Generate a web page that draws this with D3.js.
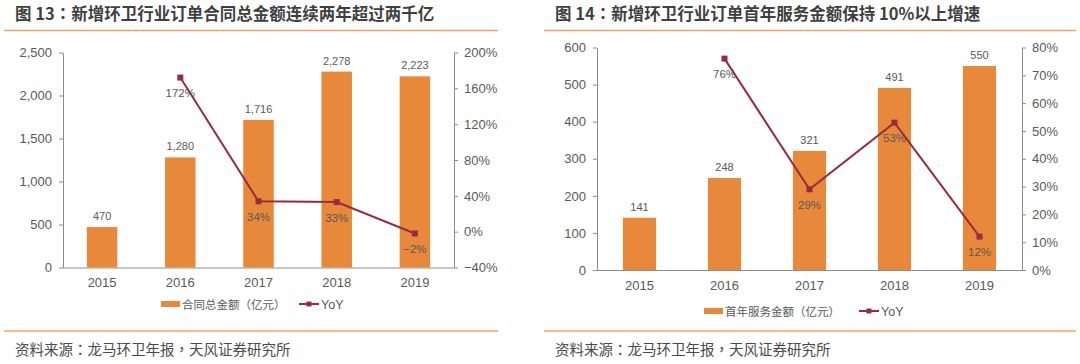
<!doctype html>
<html>
	<head>
		<meta charset="utf-8">
		<title>环卫订单</title>
		<style>
			body{
				margin: 0;
				background: #fff;
			}
			svg text{
				font-family: "Liberation Sans", Arial, "Noto Sans CJK SC", sans-serif;
			}
			.cjk{
				font-family: "Noto Sans CJK SC", sans-serif !important;
			}
			.punct{
				font-family: "Noto Sans CJK TC", sans-serif !important;
			}
		</style>
	</head>
	<body>
		<svg id="chart" width="1080" height="364"></svg>
		<script src="https://d3js.org/d3.v7.min.js"></script>
		<script>
			var years = ["2015", "2016", "2017", "2018", "2019"];
			// 合同总金额（亿元）
			var contractTotal = [470, 1280, 1716, 2278, 2223];
			var contractYoY = [null, 172, 34, 33, -2];
			// 首年服务金额（亿元）
			var firstYear = [141, 248, 321, 491, 550];
			var firstYearYoY = [null, 76, 29, 53, 12];

			var leftTicks = [0, 500, 1000, 1500, 2000, 2500];
			var leftPctTicks = [-40, 0, 40, 80, 120, 160, 200];
			var rightTicks = [0, 100, 200, 300, 400, 500, 600];
			var rightPctTicks = [0, 10, 20, 30, 40, 50, 60, 70, 80];

			var orange = "#E8883B", wine = "#9A2A3E", axisGray = "#8c8c8c", textGray = "#595959";
			var svg = d3.select("#chart");

			// split text so that full-width ： and ， sit centred in their cell
			function cjkText(sel, str){
				str.split(/([：，])/).forEach(function(part){
					if(!part) return;
					var t = sel.append("tspan").text(part);
					if(part === "：" || part === "，") t.attr("class", "punct");
				});
			}

			function drawPanel(p){
				var g = svg.append("g");

				// title + rules
				var title = g.append("text").attr("class", "cjk")
					.attr("x", p.left + 15).attr("y", 20)
					.attr("font-size", 16.5).attr("font-weight", "bold").attr("fill", "#3f3f3f");
				cjkText(title, p.title);
				g.append("line").attr("x1", p.left + 4).attr("x2", p.ruleEnd).attr("y1", 30.5).attr("y2", 30.5)
					.attr("stroke", "#F0A464").attr("stroke-width", 1.3);
				g.append("line").attr("x1", p.left + 4).attr("x2", p.ruleEnd).attr("y1", 331).attr("y2", 331)
					.attr("stroke", "#F0A464").attr("stroke-width", 1.3);
				var src = g.append("text").attr("class", "cjk")
					.attr("x", p.left + 15).attr("y", 355)
					.attr("font-size", 14.5).attr("fill", "#4a4a4a");
				cjkText(src, "资料来源：龙马环卫年报，天风证券研究所");

				var x = d3.scaleBand().domain(years).range([p.x0, p.x1]).paddingInner(0.61).paddingOuter(0.305);
				var y = d3.scaleLinear().domain(p.yDomain).range([p.bottom, p.top]);
				var y2 = d3.scaleLinear().domain(p.pDomain).range([p.bottom, p.top]);

				// axes
				var yAxis = g.append("g").attr("transform", "translate(" + p.x0 + ",0)")
					.call(d3.axisLeft(y).tickValues(p.yTicks).tickSize(4).tickSizeOuter(0).tickPadding(7).tickFormat(d3.format(",")));
				var y2Axis = g.append("g").attr("transform", "translate(" + p.x1 + ",0)")
					.call(d3.axisRight(y2).tickValues(p.pTicks).tickSize(4).tickSizeOuter(0).tickPadding(6).tickFormat(function(d){ return d3.format("")(d) + "%"; }));
				[yAxis, y2Axis].forEach(function(a){
					a.select(".domain").attr("stroke", axisGray);
					a.selectAll(".tick line").attr("stroke", axisGray);
					a.selectAll(".tick text").attr("fill", textGray).attr("font-size", 13);
				});
				g.append("line").attr("x1", p.x0).attr("x2", p.x1).attr("y1", p.bottom + 0.5).attr("y2", p.bottom + 0.5)
					.attr("stroke", axisGray);
				g.selectAll(".year").data(years).enter().append("text")
					.attr("x", function(d){ return x(d) + x.bandwidth() / 2; })
					.attr("y", p.bottom + 19.5)
					.attr("text-anchor", "middle").attr("font-size", 13).attr("fill", textGray)
					.text(function(d){ return d; });

				// bars
				g.selectAll(".bar").data(p.values).enter().append("rect")
					.attr("x", function(d, i){ return x(years[i]); })
					.attr("y", function(d){ return y(d); })
					.attr("width", x.bandwidth())
					.attr("height", function(d){ return p.bottom - y(d); })
					.attr("fill", orange);
				g.selectAll(".barlabel").data(p.values).enter().append("text")
					.attr("x", function(d, i){ return x(years[i]) + x.bandwidth() / 2; })
					.attr("y", function(d){ return y(d) - 7; })
					.attr("text-anchor", "middle").attr("font-size", 11).attr("fill", textGray)
					.text(function(d){ return d3.format(",")(d); });

				// yoy line
				var pts = p.yoy.map(function(v, i){ return {year: years[i], v: v}; }).filter(function(d){ return d.v !== null; });
				var cx = function(d){ return x(d.year) + x.bandwidth() / 2; };
				g.append("path").datum(pts)
					.attr("d", d3.line().x(cx).y(function(d){ return y2(d.v); }))
					.attr("fill", "none").attr("stroke", wine).attr("stroke-width", 2);
				g.selectAll(".mark").data(pts).enter().append("rect")
					.attr("x", function(d){ return cx(d) - 3; })
					.attr("y", function(d){ return y2(d.v) - 3; })
					.attr("width", 6).attr("height", 6).attr("fill", wine);
				g.selectAll(".pctlabel").data(pts).enter().append("text")
					.attr("x", cx)
					.attr("y", function(d){ return y2(d.v) + 19.5; })
					.attr("text-anchor", "middle").attr("font-size", 11.5).attr("fill", textGray)
					.text(function(d){ return d3.format("")(d.v) + "%"; });

				// legend
				var lg = g.append("g").attr("transform", "translate(" + p.legendX + "," + p.legendY + ")");
				lg.append("rect").attr("x", 0).attr("y", -3).attr("width", 19).attr("height", 6).attr("fill", orange);
				lg.append("text").attr("class", "cjk").attr("x", 21).attr("y", 4.5)
					.attr("font-size", 11.5).attr("fill", textGray).text(p.legendName);
				lg.append("line").attr("x1", p.legendLineX).attr("x2", p.legendLineX + 20).attr("y1", 0).attr("y2", 0)
					.attr("stroke", wine).attr("stroke-width", 2);
				lg.append("rect").attr("x", p.legendLineX + 7.5).attr("y", -2.5).attr("width", 5).attr("height", 5).attr("fill", wine);
				lg.append("text").attr("x", p.legendLineX + 22).attr("y", 4.5)
					.attr("font-size", 12.5).attr("fill", textGray).text("YoY");
			}

			drawPanel({
				left: 0, ruleEnd: 498,
				title: "图 13：新增环卫行业订单合同总金额连续两年超过两千亿",
				x0: 63, x1: 454, top: 52.5, bottom: 267.5,
				yDomain: [0, 2500], pDomain: [-40, 200],
				yTicks: leftTicks, pTicks: leftPctTicks,
				values: contractTotal, yoy: contractYoY,
				legendX: 161, legendY: 304, legendLineX: 138,
				legendName: "合同总金额（亿元）"
			});
			drawPanel({
				left: 540, ruleEnd: 1076,
				title: "图 14：新增环卫行业订单首年服务金额保持 10%以上增速",
				x0: 597, x1: 1022, top: 47.5, bottom: 270,
				yDomain: [0, 600], pDomain: [0, 80],
				yTicks: rightTicks, pTicks: rightPctTicks,
				values: firstYear, yoy: firstYearYoY,
				legendX: 704, legendY: 311, legendLineX: 155,
				legendName: "首年服务金额（亿元）"
			});
		</script>
	</body>
</html>
